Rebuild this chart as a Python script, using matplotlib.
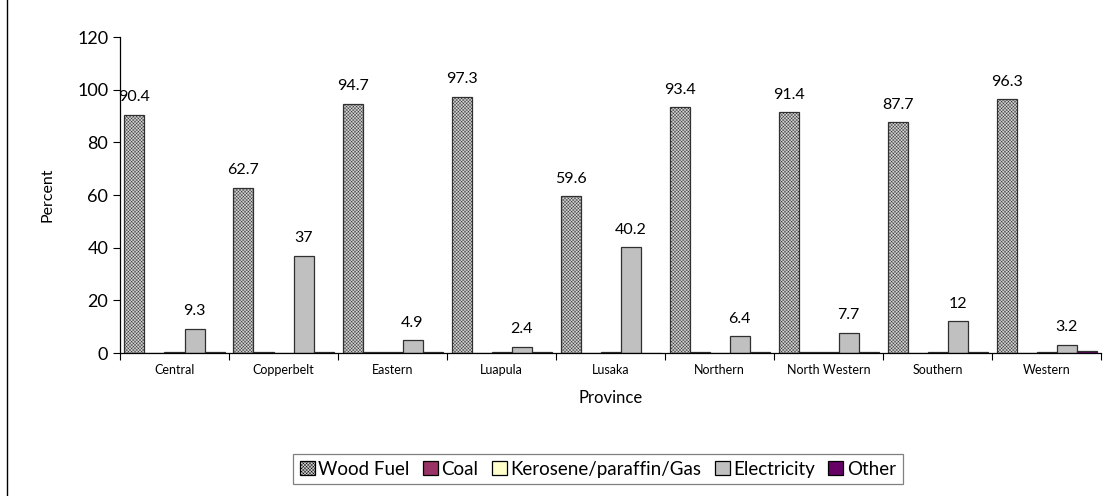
import numpy as np
import matplotlib.pyplot as plt
from matplotlib.lines import Line2D

plt.rcParams['font.family'] = ['Lato', 'DejaVu Sans']
plt.rcParams['hatch.linewidth'] = 0.3
plt.rcParams['hatch.color'] = '#b0b0b0'

# -----------------------------
# Household cooking fuel by province (percent)
# -----------------------------
provinces = ["Central", "Copperbelt", "Eastern", "Luapula", "Lusaka",
             "Northern", "North Western", "Southern", "Western"]

wood_fuel = [90.4, 62.7, 94.7, 97.3, 59.6, 93.4, 91.4, 87.7, 96.3]
coal = [0.1, 0.2, 0.2, 0.1, 0.1, 0.2, 0.3, 0.1, 0.1]
kerosene = [0.2, 0.1, 0.4, 0.2, 0.2, 0.1, 0.5, 0.2, 0.3]
electricity = [9.3, 37, 4.9, 2.4, 40.2, 6.4, 7.7, 12, 3.2]
other = [0.3, 0.3, 0.5, 0.3, 0.1, 0.2, 0.3, 0.2, 0.6]

series = [
    ("Wood Fuel", wood_fuel, "#d2d2d2", "xxxxxxxxxx"),
    ("Coal", coal, "#993366", None),
    ("Kerosene/paraffin/Gas", kerosene, "#ffffcc", None),
    ("Electricity", electricity, "#c0c0c0", None),
    ("Other", other, "#660066", None),
]
labelled = ["Wood Fuel", "Electricity"]

fig = plt.figure(figsize=(11.07, 4.96), dpi=100)
ax = fig.add_axes([0.1084, 0.2883, 0.8862, 0.6371])

x = np.arange(len(provinces)) + 0.5
width = 0.1835
offsets = (np.arange(len(series)) - 2) * width

for (name, vals, color, hatch), off in zip(series, offsets):
    bars = ax.bar(x + off, vals, width, color=color, edgecolor="#303030",
                  linewidth=0.9, hatch=hatch, label=name)
    if name in labelled:
        for b, v in zip(bars, vals):
            ax.text(b.get_x() + b.get_width() / 2, v + 4, f"{v:g}",
                    ha="center", va="bottom", fontsize=11.5)

ax.set_xlim(0, len(provinces))
ax.set_ylim(0, 120)
ax.set_yticks(range(0, 121, 20))
ax.tick_params(axis="y", labelsize=13, direction="out", length=5, width=0.8)

# category ticks sit between groups, names centred under each group
ax.set_xticks(np.arange(len(provinces) + 1))
ax.set_xticklabels([])
ax.set_xticks(x, minor=True)
ax.set_xticklabels(provinces, minor=True, fontsize=9)
ax.tick_params(axis="x", which="major", direction="out", length=5, width=0.8)
ax.tick_params(axis="x", which="minor", length=0, pad=8)

for side in ["top", "right"]:
    ax.spines[side].set_visible(False)
ax.spines["left"].set_linewidth(0.9)
ax.spines["bottom"].set_linewidth(0.9)

ax.set_ylabel("Percent", fontsize=11.5, labelpad=16)
ax.set_xlabel("Province", fontsize=12, labelpad=10)

leg = fig.legend(loc="center", bbox_to_anchor=(0.54, 0.054), ncol=5,
                 fontsize=13.5, frameon=True, fancybox=False,
                 handlelength=0.8, handleheight=0.8, handletextpad=0.2,
                 columnspacing=0.7, borderpad=0.35)
leg.get_frame().set_edgecolor("#606060")
leg.get_frame().set_linewidth(0.9)
for h in leg.legend_handles:
    h.set_edgecolor("black")

# left edge of the chart frame
fig.add_artist(Line2D([0.0065, 0.0065], [0, 1], color="black", linewidth=1))

fig.savefig("out.png", dpi=100)
